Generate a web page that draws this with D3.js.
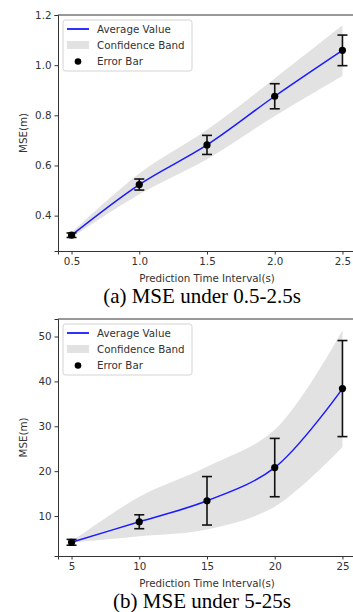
<!DOCTYPE html>
<html>
<head>
<meta charset="utf-8">
<script src="https://cdn.jsdelivr.net/npm/d3@7"></script>
<style>
  body { margin: 0; background: #fff; }
  svg { display: block; }
  .tick text { font-family: "DejaVu Sans", sans-serif; fill: #333; }
</style>
</head>
<body>
<div id="chart"></div>
<script>
// panel (a): 0.5-2.5s
var timesA = [0.5, 1.0, 1.5, 2.0, 2.5],
  meanA = [0.322, 0.524, 0.682, 0.876, 1.059],
  errA = [0.009, 0.022, 0.038, 0.05, 0.061],
  bandLowA = [0.312, 0.485, 0.625, 0.797, 0.957],
  bandHighA = [0.332, 0.568, 0.742, 0.947, 1.159],
  ticksXA = [0.5, 1.0, 1.5, 2.0, 2.5],
  ticksYA = [0.4, 0.6, 0.8, 1.0, 1.2];

// panel (b): 5-25s
var timesB = [5, 10, 15, 20, 25],
  meanB = [4.15, 8.73, 13.4, 20.8, 38.4],
  errB = [0.65, 1.55, 5.4, 6.5, 10.7],
  bandLowB = [4.1, 5.5, 7.0, 12.1, 25.4],
  bandHighB = [4.3, 14.3, 21.0, 29.2, 51.4],
  ticksXB = [5, 10, 15, 20, 25],
  ticksYB = [10, 20, 30, 40, 50];

var legendItems = ["Average Value", "Confidence Band", "Error Bar"];

var svg = d3.select("#chart").append("svg")
  .attr("width", 353)
  .attr("height", 612);

function drawPanel(cfg) {
  var x = d3.scaleLinear().domain(cfg.xDomain).range([58, 356]);
  var y = d3.scaleLinear().domain(cfg.yDomain).range([cfg.bottom, cfg.top]);
  var curve = d3.curveCatmullRom.alpha(0.5);

  var g = svg.append("g");

  var rows = cfg.times.map(function(t, i) {
    return {t: t, m: cfg.mean[i], e: cfg.err[i], lo: cfg.low[i], hi: cfg.high[i]};
  });

  // confidence band
  var band = d3.area()
    .x(function(d) { return x(d.t); })
    .y0(function(d) { return y(d.lo); })
    .y1(function(d) { return y(d.hi); })
    .curve(curve);

  g.append("path")
    .datum(rows)
    .attr("d", band)
    .attr("fill", "#e2e2e2");

  // average line
  var line = d3.line()
    .x(function(d) { return x(d.t); })
    .y(function(d) { return y(d.m); })
    .curve(curve);

  g.append("path")
    .datum(rows)
    .attr("d", line)
    .attr("fill", "none")
    .attr("stroke", "#1a1aff")
    .attr("stroke-width", 1.5);

  // error bars
  var eb = g.append("g").selectAll("g")
    .data(rows)
    .enter().append("g")
    .attr("stroke", "#111")
    .attr("stroke-width", 1.6);

  eb.append("line")
    .attr("x1", function(d) { return x(d.t); })
    .attr("x2", function(d) { return x(d.t); })
    .attr("y1", function(d) { return y(d.m - d.e); })
    .attr("y2", function(d) { return y(d.m + d.e); });

  [-1, 1].forEach(function(s) {
    eb.append("line")
      .attr("x1", function(d) { return x(d.t) - 5; })
      .attr("x2", function(d) { return x(d.t) + 5; })
      .attr("y1", function(d) { return y(d.m + s * d.e); })
      .attr("y2", function(d) { return y(d.m + s * d.e); });
  });

  g.append("g").selectAll("circle")
    .data(rows)
    .enter().append("circle")
    .attr("cx", function(d) { return x(d.t); })
    .attr("cy", function(d) { return y(d.m); })
    .attr("r", 3.6)
    .attr("fill", "#000");

  // axes
  var xAxis = g.append("g")
    .attr("transform", "translate(0," + cfg.bottom + ")")
    .call(d3.axisBottom(x).tickValues(cfg.ticksX).tickFormat(cfg.fmtX).tickSizeOuter(0).tickSize(3.5).tickPadding(3));

  var yAxis = g.append("g")
    .attr("transform", "translate(58,0)")
    .call(d3.axisLeft(y).tickValues(cfg.ticksY).tickFormat(cfg.fmtY).tickSizeOuter(0).tickSize(3.5).tickPadding(3));

  [xAxis, yAxis].forEach(function(a) {
    a.selectAll("text").attr("font-size", 10.3);
    a.selectAll("line").attr("stroke", "#333");
    a.select(".domain").attr("stroke", "#333");
  });

  // top spine
  g.append("line")
    .attr("x1", 58).attr("x2", 356)
    .attr("y1", cfg.top).attr("y2", cfg.top)
    .attr("stroke", "#333");

  // labels
  g.append("text")
    .attr("x", 207)
    .attr("y", cfg.bottom + 31)
    .attr("text-anchor", "middle")
    .attr("font-family", "DejaVu Sans, sans-serif")
    .attr("font-size", 10.3)
    .attr("fill", "#333")
    .text("Prediction Time Interval(s)");

  g.append("text")
    .attr("transform", "translate(27," + ((cfg.top + cfg.bottom) / 2) + ") rotate(-90)")
    .attr("text-anchor", "middle")
    .attr("font-family", "DejaVu Sans, sans-serif")
    .attr("font-size", 10.3)
    .attr("fill", "#333")
    .text("MSE(m)");

  g.append("text")
    .attr("x", 202)
    .attr("y", cfg.bottom + 52)
    .attr("text-anchor", "middle")
    .attr("font-family", "Liberation Serif, Times New Roman, serif")
    .attr("font-size", 21)
    .attr("fill", "#000")
    .text(cfg.caption);

  // legend
  var lg = g.append("g").attr("transform", "translate(63," + (cfg.top + 5) + ")");
  lg.append("rect")
    .attr("width", 129).attr("height", 51).attr("rx", 2.5)
    .attr("fill", "#fff").attr("fill-opacity", 0.85)
    .attr("stroke", "#d4d4d4");

  lg.append("line")
    .attr("x1", 4).attr("x2", 26).attr("y1", 9).attr("y2", 9)
    .attr("stroke", "#1a1aff").attr("stroke-width", 1.8);
  lg.append("rect")
    .attr("x", 4).attr("y", 21).attr("width", 22).attr("height", 8)
    .attr("fill", "#e2e2e2");
  lg.append("circle")
    .attr("cx", 15).attr("cy", 41.5).attr("r", 3.3).attr("fill", "#000");

  lg.selectAll("text.item")
    .data(legendItems)
    .enter().append("text")
    .attr("class", "item")
    .attr("x", 34)
    .attr("y", function(d, i) { return 9 + i * 16; })
    .attr("dy", "0.35em")
    .attr("font-family", "DejaVu Sans, sans-serif")
    .attr("font-size", 10.3)
    .attr("fill", "#333")
    .text(function(d) { return d; });
}

drawPanel({
  times: timesA, mean: meanA, err: errA, low: bandLowA, high: bandHighA,
  xDomain: [0.4, 2.6], yDomain: [0.259, 1.2],
  top: 15, bottom: 251,
  ticksX: ticksXA, ticksY: ticksYA,
  fmtX: d3.format(".1f"), fmtY: d3.format(".1f"),
  caption: "(a) MSE under 0.5-2.5s"
});

drawPanel({
  times: timesB, mean: meanB, err: errB, low: bandLowB, high: bandHighB,
  xDomain: [4, 26], yDomain: [1.1, 53.9],
  top: 319, bottom: 556,
  ticksX: ticksXB, ticksY: ticksYB,
  fmtX: d3.format("d"), fmtY: d3.format("d"),
  caption: "(b) MSE under 5-25s"
});
</script>
</body>
</html>
